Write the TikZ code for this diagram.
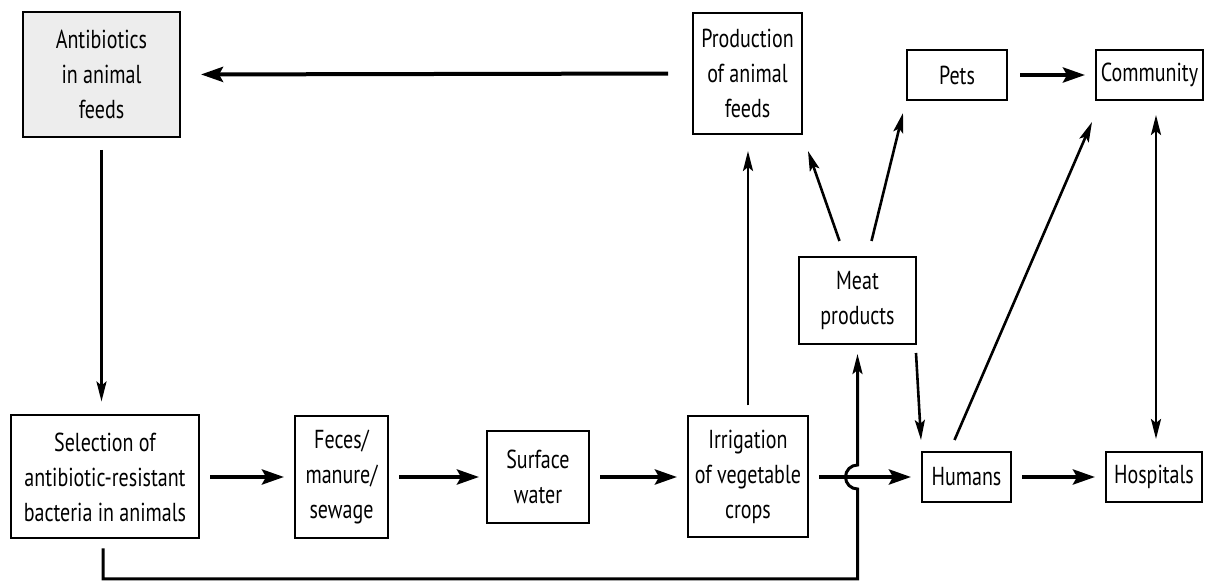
\documentclass[tikz,border=0pt]{standalone}
\usepackage{fontspec}
\setmainfont[FakeStretch=0.77]{PT Sans}
\usetikzlibrary{arrows.meta}

\begin{document}
\begin{tikzpicture}[x=0.5pt,y=-0.5pt]
				\tikzset{box/.style = {draw, line width=1pt, align=center, inner sep=0pt, font=\fontsize{13}{17.5}\selectfont},
					thick arrow/.style = {line width=2pt, -{Stealth[length=11pt,width=7.5pt,inset=2pt]}, shorten <=5pt, shorten >=5pt},
					thin arrow/.style = {line width=1.3pt, -{Stealth[length=10pt,width=5pt,inset=2pt]}}}
				\useasboundingbox (0,0) rectangle (1206,582);
				\node[box, fill=black!7, minimum width=78.5pt, minimum height=62.5pt] (anti) at (101.5,74.5) {Antibiotics\\in animal\\feeds};
				\foreach \n/\x/\y/\w/\h/\t in {prod/747.5/73.5/54.5/60.5/{Production\\of animal\\feeds},
					pets/957/75/50/25/{Pets}, comm/1149.5/75/53.5/25/{Community},
					meat/857.5/300.5/58.5/43.5/{Meat\\products},
					sel/105/477/94/61.5/{Selection of\\antibiotic-resistant\\bacteria in animals},
					fec/341.5/477/46.5/61/{Feces/\\manure/\\sewage}, surf/538/477/51/46/{Surface\\water},
					irr/748/477/60/60.5/{Irrigation\\of vegetable\\crops},
					hum/966.5/477/44.5/25/{Humans}, hosp/1154/477/48/25/{Hospitals}}{
					\node[box, minimum width=\w pt, minimum height=\h pt] (\n) at (\x,\y) {\t};
				}
				\coordinate (hop) at (meat.south |- irr.east);
				\draw[thick arrow, shorten <=12pt, shorten >=10pt] (prod.west) -- (anti.east);
				\draw[thin arrow, shorten <=6pt, shorten >=6.5pt] (anti.south) -- (anti.south |- sel.north);
				\draw[thick arrow] (sel) -- (fec);
				\draw[thick arrow, shorten >=3.5pt] (fec) -- (surf);
				\draw[thick arrow] (surf) -- (irr);
				\draw[thick arrow] (irr) -- (hum);
				\draw[thick arrow] (hum) -- (hosp);
				\draw[thick arrow, shorten <=6pt] (pets) -- (comm);
				\draw[thin arrow, shorten <=5pt, shorten >=8pt] (irr.north) -- (irr.north |- prod.south);
				\draw[thin arrow] ([shift={(-18,-15)}]meat.north) -- ([shift={(5,16)}]prod.south east);
				\draw[thin arrow] ([shift={(14,-15)}]meat.north) -- ([shift={(-3,12)}]pets.south west);
				\draw[thin arrow] ([shift={(-1,8)}]meat.south east) -- ([shift={(0,-11)}]hum.north west);
				\draw[thin arrow] ([shift={(-12,-11)}]hum.north) -- ([shift={(-3,21)}]comm.south west);
				\draw[thin arrow, {Stealth[length=10pt,width=5pt,inset=2pt]}-{Stealth[length=10pt,width=5pt,inset=2pt]}, shorten <=7pt, shorten >=6pt] ([xshift=3.25pt]comm.south) -- ([xshift=3.25pt]comm.south |- hosp.north);
				\draw[thin arrow, line width=1.5pt] ([shift={(-2,9)}]sel.south) |- ([shift={(0,102)}]hop) -- ([shift={(0,12)}]hop) arc (90:270:12) -- ([shift={(0,9)}]meat.south);
			\end{tikzpicture}
\end{document}
